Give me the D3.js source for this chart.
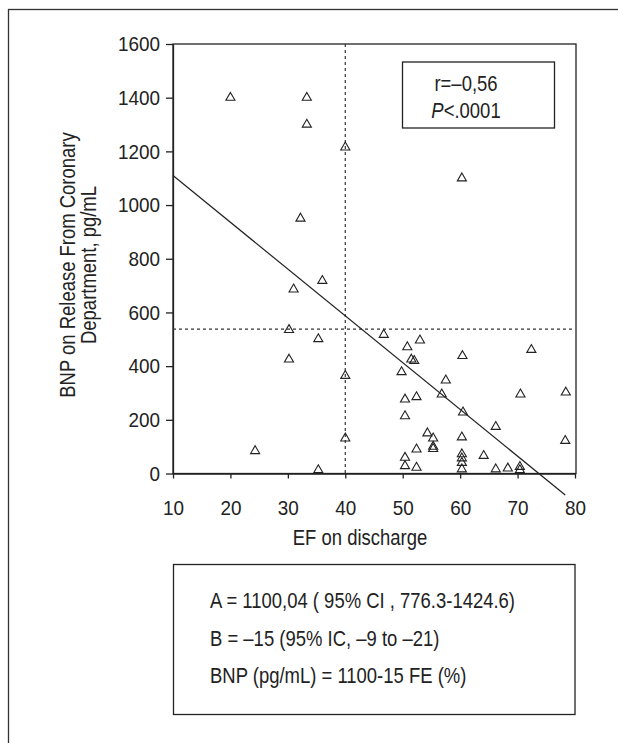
<!DOCTYPE html>
<html>
<head>
<meta charset="utf-8">
<script src="https://cdnjs.cloudflare.com/ajax/libs/d3/7.8.5/d3.min.js"></script>
<style>
    body { margin: 0; background: #fff; }
    svg text { font-family: "Liberation Sans", Arial, sans-serif; fill: #222; }
</style>
</head>
<body>
<div class="chart"></div>
<script>
// EF on discharge (%) and BNP (pg/mL)
var efValues = [20, 33.3, 33.3, 40, 32.2, 60.3, 31, 36, 30.2, 35.3, 30.2, 40, 40, 24.3, 35.3,
    46.7, 50.8, 53, 51.5, 52, 49.8, 60.4, 72.4, 57.5, 56.8, 50.4, 52.4, 70.5, 78.4, 60.5,
    50.4, 66.2, 54.3, 55.3, 55.3, 55.3, 60.3, 52.4, 78.3, 50.4, 50.4, 52.4, 60.3, 60.3, 60.3,
    60.3, 64.1, 66.2, 68.3, 70.4, 70.4];
var bnpValues = [1400, 1400, 1300, 1215, 950, 1100, 686, 718, 535, 501, 425, 364, 131, 84, 13,
    517, 471, 496, 425, 420, 378, 438, 461, 347, 295, 276, 285, 295, 302, 228,
    214, 174, 150, 131, 100, 92, 135, 90, 122, 59, 28, 22, 72, 57, 40,
    16, 66, 16, 19, 25, 13];

// regression line end points
var fitX = [10, 78.3];
var fitY = [1110, -80];

// reference cut-offs (dotted lines)
var efCut = 40;
var bnpCut = 538;

var xTicks = [10, 20, 30, 40, 50, 60, 70, 80];
var yTicks = [0, 200, 400, 600, 800, 1000, 1200, 1400, 1600];

var statLines = ["r=\u20130,56", "<.0001"];
var modelLines = [
    "A = 1100,04 ( 95% CI , 776.3-1424.6)",
    "B = \u201315 (95% IC, \u20139 to \u201321)",
    "BNP (pg/mL) = 1100-15 FE (%)"
];

var svgWidth = 618;
var svgHeight = 743;
var squeeze = 0.84;   // the original type is a condensed face

var svg = d3.select(".chart")
    .append("svg")
    .attr("width", svgWidth)
    .attr("height", svgHeight);

// text drawn with its anchor at (tx, ty), squeezed horizontally
function narrowText(parent, tx, ty, size, anchor, rot) {
    return parent.append("text")
        .attr("transform", "translate(" + tx + "," + ty + ")" + (rot ? " rotate(" + rot + ")" : "") + " scale(" + squeeze + ",1)")
        .attr("text-anchor", anchor)
        .attr("font-size", size);
}

// outer frame
svg.append("rect")
    .attr("x", 8.5)
    .attr("y", 9.5)
    .attr("width", 640)
    .attr("height", 760)
    .attr("fill", "none")
    .attr("stroke", "#333")
    .attr("stroke-width", 1.3);

var x = d3.scaleLinear().domain([10, 80]).range([173, 575]);
var y = d3.scaleLinear().domain([0, 1600]).range([473.5, 44]);

var points = efValues.map(function(d, i) {
    return { ef: d, bnp: bnpValues[i] };
});

// plot box
svg.append("rect")
    .attr("x", x(10))
    .attr("y", y(1600))
    .attr("width", x(80) - x(10) + 1)
    .attr("height", y(0) - y(1600))
    .attr("fill", "none")
    .attr("stroke", "#222")
    .attr("stroke-width", 1.3);

var bottomAxis = d3.axisBottom(x).tickValues(xTicks).tickFormat(d3.format("d"))
    .tickSize(5).tickSizeOuter(0).tickPadding(22);
var leftAxis = d3.axisLeft(y).tickValues(yTicks).tickFormat(d3.format("d"))
    .tickSize(7).tickSizeOuter(0).tickPadding(6);

var xAxisG = svg.append("g")
    .attr("transform", "translate(0," + y(0) + ")")
    .call(bottomAxis);

var yAxisG = svg.append("g")
    .attr("transform", "translate(" + x(10) + ",0)")
    .call(leftAxis);

xAxisG.selectAll(".tick text")
    .attr("font-size", 21)
    .attr("transform", "scale(0.9,1)");

yAxisG.selectAll(".tick text")
    .attr("font-size", 21)
    .attr("x", 0)
    .attr("transform", "translate(-13,0) scale(0.9,1)");

svg.selectAll(".domain, .tick line")
    .attr("stroke", "#222")
    .attr("stroke-width", 1.3);

// dotted reference lines
svg.append("line")
    .attr("x1", x(efCut)).attr("x2", x(efCut))
    .attr("y1", y(1600)).attr("y2", y(0))
    .attr("stroke", "#333")
    .attr("stroke-width", 1.2)
    .attr("stroke-dasharray", "3,3");

svg.append("line")
    .attr("x1", x(10)).attr("x2", x(80))
    .attr("y1", y(bnpCut)).attr("y2", y(bnpCut))
    .attr("stroke", "#333")
    .attr("stroke-width", 1.2)
    .attr("stroke-dasharray", "3,3");

// regression line
svg.append("line")
    .attr("x1", x(fitX[0])).attr("y1", y(fitY[0]))
    .attr("x2", x(fitX[1])).attr("y2", y(fitY[1]))
    .attr("stroke", "#222")
    .attr("stroke-width", 1.2);

var triangle = d3.symbol().type(d3.symbolTriangle).size(36);

svg.selectAll(".pt")
    .data(points)
    .enter()
    .append("path")
    .attr("class", "pt")
    .attr("d", triangle)
    .attr("transform", function(d) {
        return "translate(" + x(d.ef) + "," + y(d.bnp) + ")";
    })
    .attr("fill", "none")
    .attr("stroke", "#222")
    .attr("stroke-width", 1.1);

// axis titles
narrowText(svg, 360, 545, 22, "middle").text("EF on discharge");

var yTitle = narrowText(svg, 75, 265, 22, "middle", -90);
yTitle.append("tspan").attr("x", 0).attr("y", 0).text("BNP on Release From Coronary");
yTitle.append("tspan").attr("x", 0).attr("y", 21).text("Department, pg/mL");

// r / P box
svg.append("rect")
    .attr("x", 402.5)
    .attr("y", 62)
    .attr("width", 152)
    .attr("height", 66)
    .attr("fill", "#fff")
    .attr("stroke", "#222")
    .attr("stroke-width", 1.3);

narrowText(svg, 466, 91, 22, "middle").text(statLines[0]);

var pText = narrowText(svg, 466, 118, 22, "middle");
pText.append("tspan").attr("font-style", "italic").text("P");
pText.append("tspan").text(statLines[1]);

// model box
svg.append("rect")
    .attr("x", 173.5)
    .attr("y", 564.5)
    .attr("width", 401.5)
    .attr("height", 150)
    .attr("fill", "none")
    .attr("stroke", "#222")
    .attr("stroke-width", 1.3);

modelLines.forEach(function(line, i) {
    narrowText(svg, 210, 608 + i * 37.5, 22, "start").text(line);
});
</script>
</body>
</html>
